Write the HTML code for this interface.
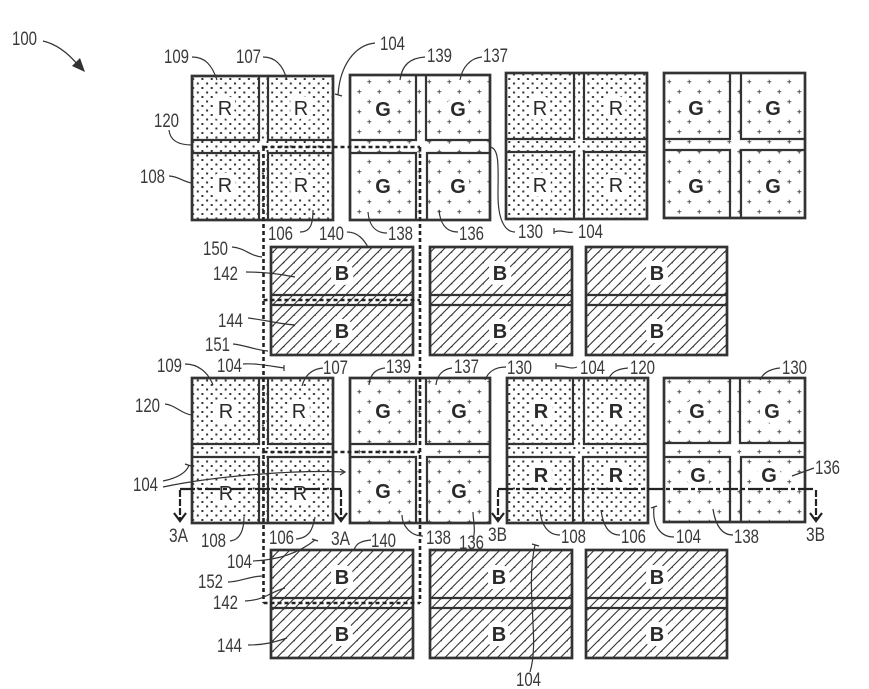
<!DOCTYPE html>
<html><head><meta charset="utf-8"><style>
html,body{margin:0;padding:0;background:#fff}
svg{display:block}
.l{font:19.5px "Liberation Sans",sans-serif;fill:#3a3a3a}
.c{font:20px "Liberation Sans",sans-serif;fill:#2a2a2a;text-anchor:middle;paint-order:stroke;stroke:#fff;stroke-width:10px;stroke-linejoin:round}
.b{font-weight:bold;font-size:20px}
.o{fill:none;stroke:#333;stroke-width:2.7}
.i{fill:none;stroke:#333;stroke-width:2.2}
.t{fill:none;stroke:#333;stroke-width:1.2}
.d{fill:none;stroke:#222;stroke-width:2.6;stroke-dasharray:4 3}
.s{fill:none;stroke:#222;stroke-width:2.2;stroke-dasharray:15 3 4 3}
.a{fill:none;stroke:#222;stroke-width:2.2}
</style></head><body>
<svg width="869" height="689" viewBox="0 0 869 689" xmlns="http://www.w3.org/2000/svg">
<defs>
<pattern id="dots" width="9.3" height="9" patternUnits="userSpaceOnUse"><rect x="1.5" y="1.5" width="2" height="2" fill="#333"/><rect x="6.1" y="6" width="2" height="2" fill="#333"/></pattern>
<pattern id="plus" width="20" height="20" patternUnits="userSpaceOnUse" patternTransform="translate(4.3,-3.3)"><path d="M5,3v4M3,5h4M15,13v4M13,15h4" stroke="#555" stroke-width="1" fill="none"/></pattern>
<pattern id="hatch" width="10.5" height="10.5" patternUnits="userSpaceOnUse"><path d="M-1,11.5L11.5,-1M-5,5.5L5.5,-5M5,16L16,5" stroke="#333" stroke-width="1.1" fill="none"/></pattern>
</defs>

<!-- Row 1 RGB blocks -->
<g>
<rect x="192" y="76" width="141" height="144" fill="url(#dots)"/>
<rect class="o" x="192" y="76" width="141" height="144"/>
<path class="i" d="M259,76V140H192M268,76V140H333M192,153H259V220M333,153H268V220"/>
<rect x="350" y="75" width="140" height="145" fill="url(#plus)"/>
<rect class="o" x="350" y="75" width="140" height="145"/>
<path class="i" d="M416,75V140H350M426,75V140H490M350,153H416V220M490,153H427V220"/>
<rect x="506" y="73" width="141" height="146" fill="url(#dots)"/>
<rect class="o" x="506" y="73" width="141" height="146"/>
<path class="i" d="M574,73V139H506M584,73V139H647M506,152H574V219M647,152H584V219"/>
<rect x="664" y="73" width="141" height="145" fill="url(#plus)"/>
<rect class="o" x="664" y="73" width="141" height="145"/>
<path class="i" d="M730,73V139H664M741,73V139H805M664,150H730V218M805,150H741V218"/>
</g>

<!-- B row 1 -->
<g>
<rect x="271" y="247" width="142" height="108" fill="url(#hatch)"/><rect class="o" x="271" y="247" width="142" height="108"/><path class="i" d="M271,295H413M271,305H413"/>
<rect x="430" y="247" width="142" height="108" fill="url(#hatch)"/><rect class="o" x="430" y="247" width="142" height="108"/><path class="i" d="M430,295H572M430,305H572"/>
<rect x="586" y="247" width="141" height="108" fill="url(#hatch)"/><rect class="o" x="586" y="247" width="141" height="108"/><path class="i" d="M586,295H727M586,305H727"/>
</g>

<!-- Row 3 RGB blocks -->
<g>
<rect x="192" y="378" width="141" height="145" fill="url(#dots)"/>
<rect class="o" x="192" y="378" width="141" height="145"/>
<path class="i" d="M259,378V444H192M268,378V444H333M192,457H259V523M333,457H268V523"/>
<rect x="350" y="378" width="140" height="145" fill="url(#plus)"/>
<rect class="o" x="350" y="378" width="140" height="145"/>
<path class="i" d="M416,378V444H350M426,378V444H490M350,457H416V523M490,457H427V523"/>
<rect x="507" y="378" width="141" height="145" fill="url(#dots)"/>
<rect class="o" x="507" y="378" width="141" height="145"/>
<path class="i" d="M573,378V444H507M584,378V444H648M507,457H573V523M648,457H583V523"/>
<rect x="664" y="378" width="141" height="144" fill="url(#plus)"/>
<rect class="o" x="664" y="378" width="141" height="144"/>
<path class="i" d="M730,378V443H664M740,378V443H805M664,457H730V522M805,457H741V522"/>
</g>

<!-- B row 2 -->
<g>
<rect x="271" y="550" width="142" height="108" fill="url(#hatch)"/><rect class="o" x="271" y="550" width="142" height="108"/><path class="i" d="M271,598H413M271,608H413"/>
<rect x="430" y="550" width="142" height="108" fill="url(#hatch)"/><rect class="o" x="430" y="550" width="142" height="108"/><path class="i" d="M430,598H572M430,608H572"/>
<rect x="586" y="550" width="141" height="108" fill="url(#hatch)"/><rect class="o" x="586" y="550" width="141" height="108"/><path class="i" d="M586,598H727M586,608H727"/>
</g>

<!-- Cell letters -->
<g class="cells">
<text class="c" x="225" y="115">R</text><text class="c" x="301" y="115">R</text><text class="c" x="225" y="192">R</text><text class="c" x="301" y="192">R</text>
<text class="c b" x="383" y="116">G</text><text class="c b" x="458" y="116">G</text><text class="c b" x="383" y="193">G</text><text class="c b" x="458" y="193">G</text>
<text class="c" x="540" y="115">R</text><text class="c" x="616" y="115">R</text><text class="c" x="540" y="192">R</text><text class="c" x="616" y="192">R</text>
<text class="c b" x="696" y="115">G</text><text class="c b" x="773" y="115">G</text><text class="c b" x="696" y="193">G</text><text class="c b" x="773" y="193">G</text>
<text class="c b" x="342" y="280">B</text><text class="c b" x="342" y="338">B</text><text class="c b" x="500" y="280">B</text><text class="c b" x="500" y="338">B</text><text class="c b" x="657" y="280">B</text><text class="c b" x="657" y="338">B</text>
<text class="c" x="226" y="418">R</text><text class="c" x="299" y="418">R</text><text class="c" x="226" y="500">R</text><text class="c" x="300" y="500">R</text>
<text class="c b" x="383" y="418">G</text><text class="c b" x="459" y="418">G</text><text class="c b" x="383" y="498">G</text><text class="c b" x="459" y="498">G</text>
<text class="c b" x="541" y="418">R</text><text class="c b" x="616" y="418">R</text><text class="c b" x="541" y="482">R</text><text class="c b" x="616" y="482">R</text>
<text class="c b" x="697" y="418">G</text><text class="c b" x="772" y="418">G</text><text class="c b" x="698" y="482">G</text><text class="c b" x="769" y="482">G</text>
<text class="c b" x="342" y="584">B</text><text class="c b" x="342" y="641">B</text><text class="c b" x="499" y="584">B</text><text class="c b" x="499" y="641">B</text><text class="c b" x="657" y="584">B</text><text class="c b" x="657" y="641">B</text>
</g>

<!-- Dashed boxes -->
<path class="d" d="M263.5,147V603M420,147V603M263.5,147H420M263.5,300H420M263.5,452H420M263.5,603H420"/>

<!-- Section lines -->
<path class="s" d="M180,489H341"/>
<path class="s" d="M498,489H816"/>
<path class="a" stroke-dasharray="7 2" d="M180,490V520M341,490V520M498,490V520M816,490V520"/>
<path class="a" d="M174,513L180,521L186,513M335,513L341,521L347,513M492,513L498,521L504,513M810,513L816,521L822,513"/>

<!-- Leaders -->
<g class="t">
<path d="M192,57C205,57 212,65 217,80"/>
<path d="M263,57C275,57 283,65 287,80"/>
<path d="M375,43C355,45 340,65 338,95M335,94L342,96"/>
<path d="M425,57C410,58 402,65 400,80"/>
<path d="M482,57C470,58 462,68 460,80"/>
<path d="M169,130C170,140 178,145 192,145"/>
<path d="M169,176C178,176 183,182 192,183"/>
<path d="M300,232C310,232 313,225 313,210"/>
<path d="M387,233C375,233 369,225 368,212"/>
<path d="M458,232C445,232 440,222 439,210"/>
<path d="M490,147C500,148 498,170 498,195C498,220 505,232 515,232"/>
<path d="M554,232C562,229 568,234 573,232M554,228V234"/>
<path d="M347,232C358,232 364,240 368,247"/>
<path d="M232,247C245,248 250,256 262,257"/>
<path d="M246,272C265,272 280,274 295,277"/>
<path d="M248,318C265,320 280,324 295,325"/>
<path d="M233,344C245,345 255,350 268,351"/>
<path d="M243,364C255,363 270,366 284,368M284,365V371"/>
<path d="M185,364C198,364 208,372 213,385"/>
<path d="M323,368C312,369 305,375 302,386"/>
<path d="M385,368C375,369 370,375 369,385"/>
<path d="M452,368C443,369 437,375 436,385"/>
<path d="M506,367C495,367 488,372 485,380"/>
<path d="M577,367C570,370 565,365 556,366M556,363V369"/>
<path d="M628,368C617,369 612,372 609,378"/>
<path d="M780,368C770,369 763,373 760,380"/>
<path d="M165,404C175,405 182,414 192,415"/>
<path d="M163,481C178,478 187,472 189,465M185,464L191,466"/>
<path d="M163,487C220,475 300,470 345,472M340,469L345,472L340,475"/>
<path d="M230,541C240,540 244,530 244,517"/>
<path d="M296,539C310,538 313,528 315,517"/>
<path d="M253,561C280,560 300,552 315,540M312,539L318,541"/>
<path d="M228,582C240,582 250,576 263,576"/>
<path d="M245,601C265,600 270,592 285,588"/>
<path d="M248,645C265,645 275,642 287,638"/>
<path d="M371,540C360,541 356,544 354,550"/>
<path d="M423,536C410,536 402,525 402,515"/>
<path d="M473,539C476,530 473,520 473,512"/>
<path d="M814,468L792,476"/>
<path d="M560,535C548,535 541,525 540,510"/>
<path d="M620,535C608,535 603,525 601,510"/>
<path d="M674,537C660,537 652,525 654,507M651,508L657,506"/>
<path d="M733,535C720,535 715,522 713,509"/>
<path d="M530,672C540,640 525,590 535,545M532,544L539,546"/>
</g>
<path d="M43,41C56,44 68,53 78,65" fill="none" stroke="#333" stroke-width="1.3"/>
<path d="M85,72L72,66L80,58Z" fill="#333"/>

<!-- Labels -->
<g class="l">
<text x="12" y="45" textLength="25" lengthAdjust="spacingAndGlyphs">100</text>
<text x="164" y="63" textLength="25" lengthAdjust="spacingAndGlyphs">109</text>
<text x="236" y="63" textLength="25" lengthAdjust="spacingAndGlyphs">107</text>
<text x="380" y="50" textLength="25" lengthAdjust="spacingAndGlyphs">104</text>
<text x="427" y="62" textLength="25" lengthAdjust="spacingAndGlyphs">139</text>
<text x="483" y="62" textLength="25" lengthAdjust="spacingAndGlyphs">137</text>
<text x="154" y="127" textLength="25" lengthAdjust="spacingAndGlyphs">120</text>
<text x="140" y="183" textLength="25" lengthAdjust="spacingAndGlyphs">108</text>
<text x="268" y="240" textLength="25" lengthAdjust="spacingAndGlyphs">106</text>
<text x="319" y="240" textLength="25" lengthAdjust="spacingAndGlyphs">140</text>
<text x="388" y="240" textLength="25" lengthAdjust="spacingAndGlyphs">138</text>
<text x="459" y="240" textLength="25" lengthAdjust="spacingAndGlyphs">136</text>
<text x="518" y="238" textLength="25" lengthAdjust="spacingAndGlyphs">130</text>
<text x="578" y="238" textLength="25" lengthAdjust="spacingAndGlyphs">104</text>
<text x="203" y="255" textLength="25" lengthAdjust="spacingAndGlyphs">150</text>
<text x="213" y="280" textLength="25" lengthAdjust="spacingAndGlyphs">142</text>
<text x="218" y="327" textLength="25" lengthAdjust="spacingAndGlyphs">144</text>
<text x="205" y="351" textLength="25" lengthAdjust="spacingAndGlyphs">151</text>
<text x="217" y="372" textLength="25" lengthAdjust="spacingAndGlyphs">104</text>
<text x="157" y="372" textLength="25" lengthAdjust="spacingAndGlyphs">109</text>
<text x="323" y="374" textLength="25" lengthAdjust="spacingAndGlyphs">107</text>
<text x="386" y="373" textLength="25" lengthAdjust="spacingAndGlyphs">139</text>
<text x="454" y="373" textLength="25" lengthAdjust="spacingAndGlyphs">137</text>
<text x="507" y="374" textLength="25" lengthAdjust="spacingAndGlyphs">130</text>
<text x="580" y="374" textLength="25" lengthAdjust="spacingAndGlyphs">104</text>
<text x="630" y="374" textLength="25" lengthAdjust="spacingAndGlyphs">120</text>
<text x="782" y="374" textLength="25" lengthAdjust="spacingAndGlyphs">130</text>
<text x="135" y="412" textLength="25" lengthAdjust="spacingAndGlyphs">120</text>
<text x="133" y="491" textLength="25" lengthAdjust="spacingAndGlyphs">104</text>
<text x="815" y="474" textLength="25" lengthAdjust="spacingAndGlyphs">136</text>
<text x="169" y="542" textLength="19" lengthAdjust="spacingAndGlyphs">3A</text>
<text x="201" y="547" textLength="25" lengthAdjust="spacingAndGlyphs">108</text>
<text x="269" y="544" textLength="25" lengthAdjust="spacingAndGlyphs">106</text>
<text x="331" y="545" textLength="19" lengthAdjust="spacingAndGlyphs">3A</text>
<text x="371" y="547" textLength="25" lengthAdjust="spacingAndGlyphs">140</text>
<text x="426" y="544" textLength="25" lengthAdjust="spacingAndGlyphs">138</text>
<text x="459" y="549" textLength="25" lengthAdjust="spacingAndGlyphs">136</text>
<text x="488" y="541" textLength="19" lengthAdjust="spacingAndGlyphs">3B</text>
<text x="561" y="543" textLength="25" lengthAdjust="spacingAndGlyphs">108</text>
<text x="621" y="543" textLength="25" lengthAdjust="spacingAndGlyphs">106</text>
<text x="676" y="543" textLength="25" lengthAdjust="spacingAndGlyphs">104</text>
<text x="734" y="543" textLength="25" lengthAdjust="spacingAndGlyphs">138</text>
<text x="806" y="541" textLength="19" lengthAdjust="spacingAndGlyphs">3B</text>
<text x="227" y="568" textLength="25" lengthAdjust="spacingAndGlyphs">104</text>
<text x="198" y="588" textLength="25" lengthAdjust="spacingAndGlyphs">152</text>
<text x="213" y="609" textLength="25" lengthAdjust="spacingAndGlyphs">142</text>
<text x="217" y="652" textLength="25" lengthAdjust="spacingAndGlyphs">144</text>
<text x="516" y="686" textLength="25" lengthAdjust="spacingAndGlyphs">104</text>
</g>
</svg>
</body></html>
